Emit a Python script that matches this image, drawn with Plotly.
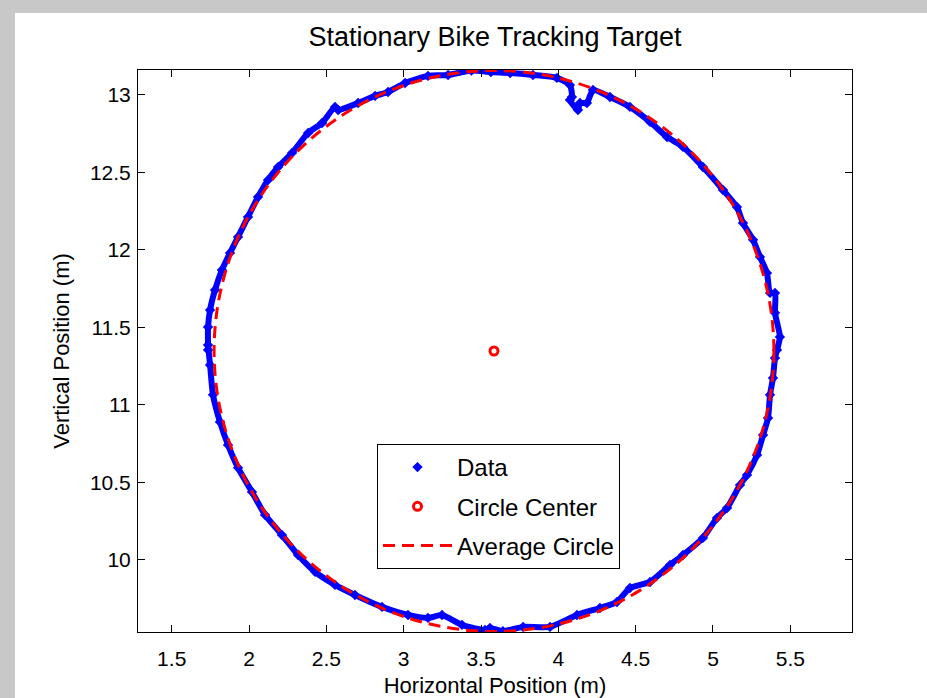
import plotly.graph_objects as go

# ---- data (metres) ----
data_x = [1.735, 1.735, 1.748, 1.780, 1.825, 1.877, 1.929, 1.993, 2.058, 2.123,
          2.188, 2.278, 2.382, 2.472, 2.556, 2.576, 2.705, 2.815, 2.899, 3.009,
          3.157, 3.287, 3.438, 3.564, 3.688, 3.836, 3.991, 4.075, 4.088, 4.075,
          4.127, 4.140, 4.185, 4.224, 4.334, 4.463, 4.593, 4.703, 4.806, 4.935,
          5.065, 5.155, 5.194, 5.259, 5.304, 5.349, 5.369, 5.401, 5.401, 5.433,
          5.414, 5.401, 5.388, 5.369, 5.356, 5.324, 5.285, 5.220, 5.175, 5.091,
          5.026, 4.935, 4.806, 4.722, 4.593, 4.463, 4.379, 4.269, 4.121, 3.946,
          3.772, 3.642, 3.558, 3.526, 3.377, 3.248, 3.157, 3.028, 2.860, 2.685,
          2.556, 2.427, 2.317, 2.213, 2.104, 2.019, 1.929, 1.864, 1.812, 1.767,
          1.748, 1.735]
data_y = [11.355, 11.503, 11.613, 11.742, 11.871, 11.981, 12.084, 12.213, 12.342, 12.452,
          12.535, 12.626, 12.755, 12.819, 12.923, 12.903, 12.948, 12.994, 13.019, 13.077,
          13.123, 13.129, 13.158, 13.148, 13.142, 13.129, 13.110, 13.065, 12.987, 12.968,
          12.903, 12.948, 12.948, 13.032, 12.987, 12.923, 12.826, 12.729, 12.665, 12.535,
          12.387, 12.277, 12.174, 12.065, 11.955, 11.852, 11.723, 11.723, 11.594, 11.439,
          11.355, 11.303, 11.174, 11.065, 10.916, 10.806, 10.677, 10.548, 10.484, 10.335,
          10.271, 10.142, 10.032, 9.968, 9.858, 9.819, 9.729, 9.690, 9.645, 9.568,
          9.568, 9.540, 9.561, 9.548, 9.581, 9.645, 9.626, 9.645, 9.697, 9.774,
          9.839, 9.923, 10.032, 10.161, 10.290, 10.439, 10.594, 10.742, 10.890, 11.065,
          11.258, 11.387]

center_x = [3.584]
center_y = [11.348]
avg_radius = 1.81

x_ticks = [1.5, 2, 2.5, 3, 3.5, 4, 4.5, 5, 5.5]
x_tick_labels = ["1.5", "2", "2.5", "3", "3.5", "4", "4.5", "5", "5.5"]
y_ticks = [10, 10.5, 11, 11.5, 12, 12.5, 13]
y_tick_labels = ["10", "10.5", "11", "11.5", "12", "12.5", "13"]

FONT = "Liberation Sans, Arial, sans-serif"
BLUE = "#0000ff"
RED = "#ff0000"
DASH = "12px,7px"

fig = go.Figure()

# thick band of the data trace (same values)
fig.add_trace(go.Scatter(
    x=data_x, y=data_y, mode="lines",
    line=dict(color=BLUE, width=6, shape="spline", smoothing=0.6),
    showlegend=False, hoverinfo="skip"))
fig.add_trace(go.Scatter(
    x=data_x, y=data_y, mode="markers", name="Data",
    marker=dict(symbol="diamond", size=8, color=BLUE),
    legendgroup="a", legendrank=1))
fig.add_trace(go.Scatter(
    x=center_x, y=center_y, mode="markers", name="Circle Center",
    marker=dict(symbol="circle-open", size=8, color=RED, line=dict(width=3, color=RED)),
    legendgroup="b", legendrank=2))
# legend entry for the average circle (the circle itself is a shape below)
fig.add_trace(go.Scatter(
    x=[None], y=[None], mode="lines", name="Average Circle",
    line=dict(color=RED, width=3, dash=DASH),
    legendgroup="c", legendrank=3, hoverinfo="skip"))

cx, cy = center_x[0], center_y[0]
shapes = [
    # white figure area on gray window background
    dict(type="rect", xref="paper", yref="paper", x0=-0.1723, x1=1.2, y0=-0.2, y1=1.1014,
         fillcolor="white", line=dict(width=0), layer="below"),
    dict(type="circle", xref="x", yref="y",
         x0=cx - avg_radius, x1=cx + avg_radius, y0=cy - avg_radius, y1=cy + avg_radius,
         line=dict(color=RED, width=3, dash=DASH)),
]

fig.update_layout(
    width=927, height=698,
    margin=dict(l=138, r=75, t=70, b=66, autoexpand=False),
    paper_bgcolor="#c8c8c8", plot_bgcolor="white",
    font=dict(family=FONT, size=21, color="black"),
    title=dict(text="Stationary Bike Tracking Target", x=0.5, xref="paper",
               y=1 - 37 / 698, yref="container", yanchor="middle",
               font=dict(family=FONT, size=27, color="black")),
    shapes=shapes,
    showlegend=True,
    legend=dict(x=(377 - 138) / 714, y=(632 - 444) / 562, xanchor="left", yanchor="top",
                bgcolor="white", bordercolor="black", borderwidth=1,
                font=dict(family=FONT, size=24), tracegroupgap=5, itemwidth=69),
    xaxis=dict(range=[1.282, 5.899], tickvals=x_ticks, ticktext=x_tick_labels,
               ticks="inside", ticklen=7, tickcolor="black", showline=True, linecolor="black",
               linewidth=1, mirror="ticks", showgrid=False, zeroline=False,
               ticklabelstandoff=8, tickfont=dict(size=21), automargin=False,
               title=dict(text="Horizontal Position (m)", standoff=26,
                          font=dict(size=22))),
    yaxis=dict(range=[9.535, 13.161], tickvals=y_ticks, ticktext=y_tick_labels,
               ticks="inside", ticklen=7, tickcolor="black", showline=True, linecolor="black",
               linewidth=1, mirror="ticks", showgrid=False, zeroline=False,
               ticklabelstandoff=2, tickfont=dict(size=21), automargin=False,
               title=dict(text="Vertical Position (m)", standoff=14,
                          font=dict(size=22))),
)

fig.write_html("out.html", config={"displayModeBar": False},
               post_script="document.body.style.margin='0px';")
